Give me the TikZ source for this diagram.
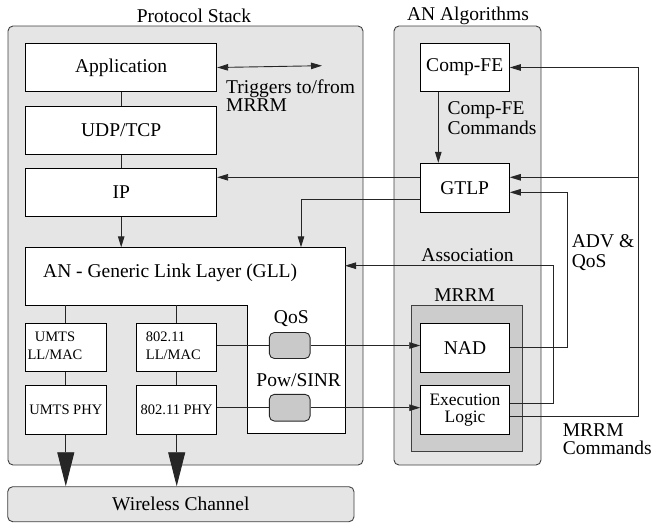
\documentclass[tikz,border=0pt]{standalone}
\usepackage{fontspec}
\setmainfont{Liberation Serif}
\usetikzlibrary{arrows.meta}
\begin{document}
\begin{tikzpicture}[x=1pt,y=-1pt,
 every node/.style={font=\fontsize{19.5}{20}\selectfont},
 panel/.style={draw=black!75,fill=black!10,rounded corners=5pt,line width=0.9pt,inner sep=0pt},
 box/.style={draw=black,fill=white,line width=0.9pt,inner sep=0pt},
 mrrmbox/.style={draw=black!75,fill=black!20,line width=0.9pt,inner sep=0pt},
 pill/.style={draw=black!85,fill=black!21,rounded corners=5pt,line width=0.9pt,minimum width=40.7pt,minimum height=26pt,inner sep=0pt},
 conn/.style={line width=0.9pt,draw=black!85},
 arr/.style={conn,-{Triangle[length=11pt,width=6.5pt]}},
 bigarr/.style={conn,-{Triangle[length=34pt,width=17pt]}},
 small/.style={font=\fontsize{14.5}{18}\selectfont},
 lbl/.style={align=left,inner sep=0pt,anchor=west}
]
\useasboundingbox (0,0) rectangle (653,522);

% panels
\node[panel,minimum width=355pt,minimum height=439pt] (ps) at (185.5,245.5) {};
\node[panel,minimum width=147pt,minimum height=439pt] (an) at (467.5,245.5) {};
\node[panel,minimum width=346.3pt,minimum height=35pt] (wc) at (180.85,504.2) {Wireless Channel};
\node (pstitle) at (194,16) {Protocol Stack};
\node (antitle) at (468,16) {AN Algorithms};

% protocol stack boxes
\node[box,minimum width=191pt,minimum height=48.4pt] (app) at (121.2,67.5) {Application};
\node[box,minimum width=191pt,minimum height=48.3pt] (udp) at (121.2,130.2) {UDP/TCP};
\node[box,minimum width=191pt,minimum height=48.4pt] (ip) at (121.2,192.5) {IP};

% GLL
\draw[box] (25.7,247.3) -- (345,247.3) -- (345,433.3) -- (247.3,433.3) -- (247.3,305) -- (25.7,305) -- cycle;
\node[anchor=west,inner sep=0pt] (gll) at (43,273.3) {AN - Generic Link Layer (GLL)};
\coordinate (gllTop) at (0,247.3);
\coordinate (gllBot) at (0,305);
\coordinate (gllR) at (345,0);

\node[box,minimum width=80.3pt,minimum height=48.4pt] (umll) at (65.8,347.5) {};
\node[small,align=center,inner sep=0pt] (umlltxt) at (55,346) {UMTS\\LL/MAC};
\node[box,small,minimum width=80.3pt,minimum height=48.6pt] (umphy) at (65.8,410) {UMTS PHY};
\node[box,minimum width=80pt,minimum height=48.4pt] (ll80) at (176.7,347.5) {};
\node[small,lbl] (ll80txt) at (145.7,346) {802.11\\LL/MAC};
\node[box,small,minimum width=80pt,minimum height=48.6pt] (phy80) at (176.7,410) {802.11 PHY};

\node[pill] (qos) at (289.7,345.5) {};
\node[pill,minimum height=26.7pt] (pow) at (289.7,407.7) {};
\node (qostxt) at (291.3,318.3) {QoS};
\node (powtxt) at (298.7,380) {Pow/SINR};

% AN algorithms
\node[box,minimum width=89.3pt,minimum height=48.4pt] (cfe) at (464.7,67.5) {Comp-FE};
\node[box,minimum width=89.3pt,minimum height=49pt] (gtlp) at (464.7,187.8) {GTLP};
\node (assoc) at (467.5,255) {Association};
\node (mrrmtxt) at (464.7,295) {MRRM};
\node[mrrmbox,minimum width=111pt,minimum height=146pt] (mrrm) at (467.2,378.7) {};
\node[box,minimum width=88.6pt,minimum height=49pt] (nad) at (465,347.8) {NAD};
\node[box,align=center,font=\fontsize{17.5}{17}\selectfont,minimum width=88.6pt,minimum height=48.6pt] (exec) at (465,410) {Execution\\Logic};

% free labels
\node[lbl,font=\fontsize{19.5}{18}\selectfont] (trig) at (226,95.3) {Triggers to/from\\MRRM};
\node[lbl] (cfecmd) at (447.3,118) {Comp-FE\\Commands};
\node[lbl] (adv) at (571.7,252.8) {ADV \&\\QoS};
\node[lbl,font=\fontsize{19.5}{18}\selectfont] (mcmd) at (562.7,439) {MRRM\\Commands};

% helper coordinates
\coordinate (yIP) at (0,177.3);
\coordinate (yG2) at (0,199.3);
\coordinate (xG2) at (301,0);
\coordinate (yAdv) at (0,192.3);
\coordinate (xAdv) at (567.7,0);
\coordinate (xBus) at (638,0);
\coordinate (yAssoc) at (0,265.7);
\coordinate (xAssoc) at (553.3,0);
\coordinate (yExA) at (0,403.3);
\coordinate (yExC) at (0,416);
\coordinate (xCF) at (438.3,0);
\coordinate (trigEnd) at (322,65.7);

% stack connectors
\draw[conn] (app.south) -- (udp.north);
\draw[conn] (udp.south) -- (ip.north);
\draw[arr] (ip.south) -- (ip.south |- gllTop);
\draw[conn] (umll.north |- gllBot) -- (umll.north);
\draw[conn] (ll80.north |- gllBot) -- (ll80.north);
\draw[conn] (umll.south) -- (umphy.north);
\draw[conn] (ll80.south) -- (phy80.north);
\draw[bigarr] (umphy.south) -- (umphy.south |- wc.north);
\draw[bigarr] (phy80.south) -- (phy80.south |- wc.north);
\draw[conn,{Triangle[length=11pt,width=6.5pt]}-{Triangle[length=11pt,width=6.5pt]}] (app.east) -- (trigEnd);

% measurement paths
\draw[conn] (ll80.east |- qos.west) -- (qos.west);
\draw[arr] (qos.east) -- (nad.west |- qos.east);
\draw[conn] (phy80.east |- pow.west) -- (pow.west);
\draw[arr] (pow.east) -- (exec.west |- pow.east);

% AN connectors
\draw[arr] (gtlp.west |- yIP) -- (ip.east |- yIP);
\draw[arr] (gtlp.west |- yG2) -- (xG2 |- yG2) -- (xG2 |- gllTop);
\draw[arr] (xCF |- cfe.south) -- (xCF |- gtlp.north);
\draw[arr] (exec.east |- yExC) -- (xBus |- yExC) -- (xBus |- cfe.east) -- (cfe.east);
\draw[arr] (xBus |- yIP) -- (gtlp.east |- yIP);
\draw[arr] (nad.east) -- (xAdv |- nad.east) -- (xAdv |- yAdv) -- (gtlp.east |- yAdv);
\draw[arr] (exec.east |- yExA) -- (xAssoc |- yExA) -- (xAssoc |- yAssoc) -- (gllR |- yAssoc);
\end{tikzpicture}
\end{document}
